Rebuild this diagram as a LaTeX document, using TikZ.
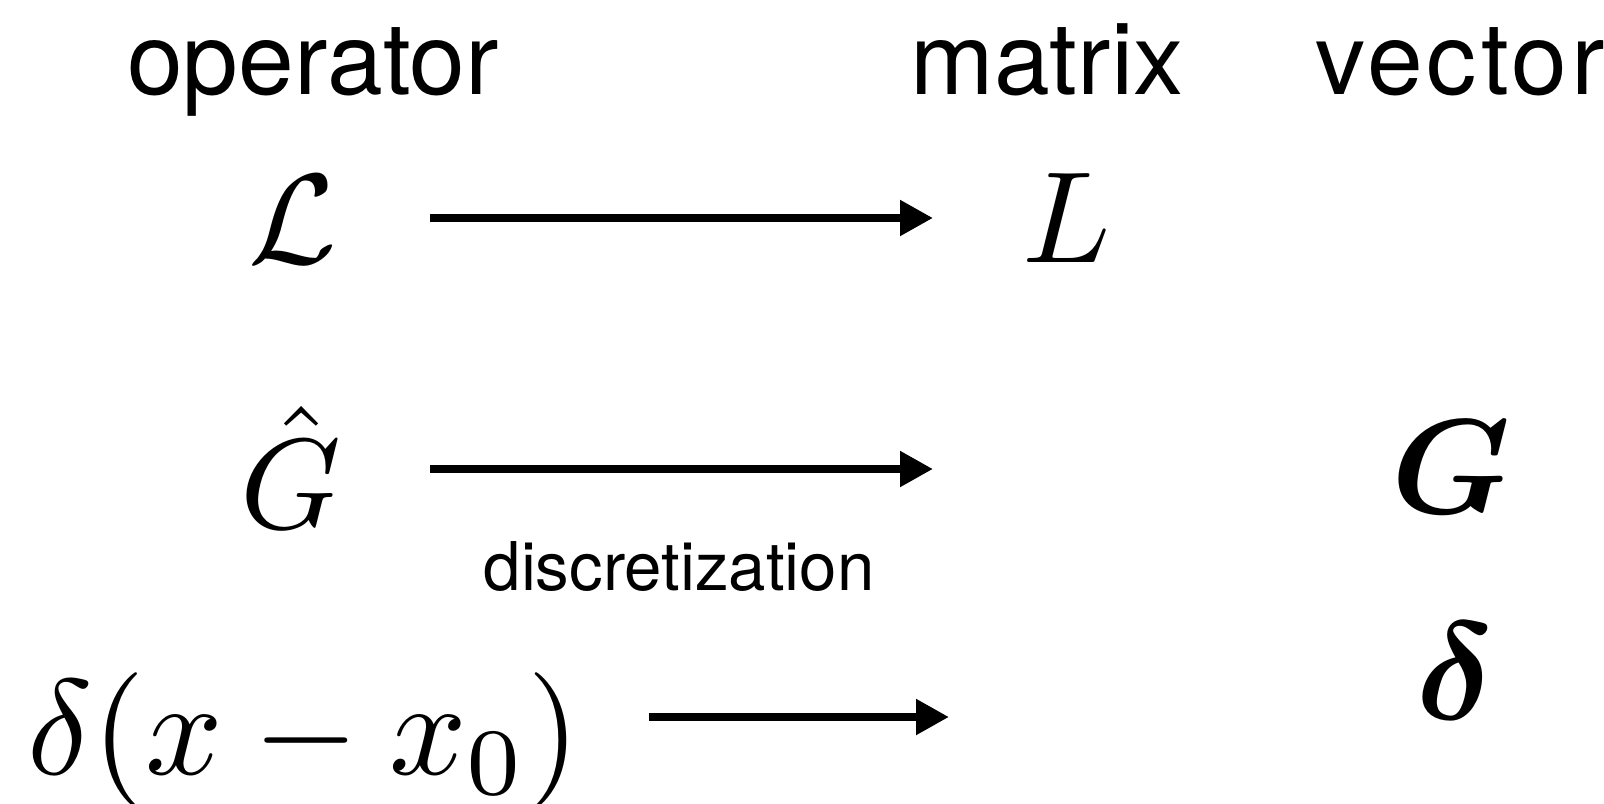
\RequirePackage{fix-cm}
\documentclass[tikz,border=0pt]{standalone}
\usepackage{amsmath}
\usepackage{graphicx}
\usepackage[no-math]{fontspec}
\setmainfont{TeX Gyre Heros}
\usetikzlibrary{positioning, arrows.meta}

\begin{document}
\begin{tikzpicture}[x=0.01cm,y=-0.01cm,>={Triangle[length=3.3mm,width=3.4mm]},
  hdr/.style={anchor=base,inner sep=0pt,font=\fontsize{28.5}{34}\selectfont},
  sym/.style={anchor=base,inner sep=0pt},
  arr/.style={->,line width=2.3pt}]
  \useasboundingbox (0,0) rectangle (1604,803);
  % column heads
  \node[hdr] (op) at (313,94) {operator};
  \node[hdr] (mat) at (1047,94) {matrix};
  \node[hdr] (vec) at (1460,94) {\addfontfeature{LetterSpace=4}vector};
  % left column
  \node[sym] (calL) at (293,263) {\scalebox{3.65}{$\mathcal{L}$}};
  \node[sym] (Ghat) at (291,528) {\scalebox{3.65}{$\hat{G}$}};
  \node[sym] (dx) at (304,774) {\scalebox{3.86}{$\delta(x-x_0)$}};
  % right columns
  \node[sym] (L) at (1067,262) {\scalebox{3.7}{$L$}};
  \node[sym] (Gv) at (1451,513) {\scalebox{3.84}{$\boldsymbol{G}$}};
  \node[sym] (dv) at (1455,719) {\scalebox{3.95}{$\boldsymbol{\delta}$}};
  \node[anchor=base,inner sep=0pt,font=\fontsize{19.1}{23}\selectfont] (disc) at (679,590) {discretization};
  % arrow ends
  \coordinate (s1) at (430,218); \coordinate (e1) at (933,218);
  \coordinate (s2) at (430,469); \coordinate (e2) at (933,469);
  \coordinate (s3) at (649,717); \coordinate (e3) at (949,717);
  \draw[arr] (s1) -- (e1);
  \draw[arr] (s2) -- (e2);
  \draw[arr] (s3) -- (e3);
\end{tikzpicture}
\end{document}
